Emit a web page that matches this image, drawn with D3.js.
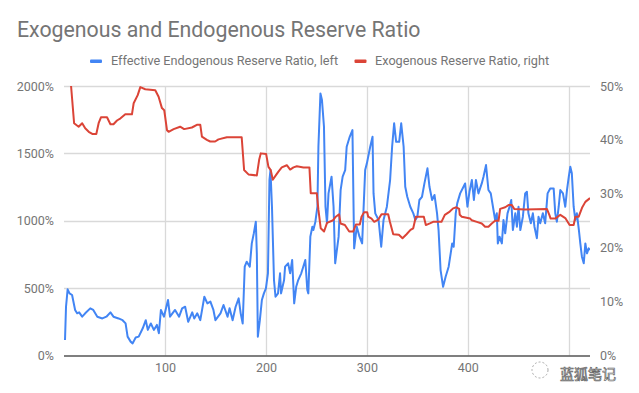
<!DOCTYPE html>
<html>
<head>
<meta charset="utf-8">
<script src="https://cdn.jsdelivr.net/npm/d3@7"></script>
<style>
  html, body { margin: 0; padding: 0; background: #fff; }
  svg { display: block; font-family: Roboto, "Noto Sans", sans-serif; }
</style>
</head>
<body>
<svg id="chart" width="639" height="393"></svg>
<script>
// ---- Data ----
const titleText = "Exogenous and Endogenous Reserve Ratio";
const seriesNames = ["Effective Endogenous Reserve Ratio, left", "Exogenous Reserve Ratio, right"];
const xTicks = [100, 200, 300, 400, 500];
const xTickLabels = ["100", "200", "300", "400", ""]; // "500" is hidden under the watermark in the reference
const leftTicks = [0, 500, 1000, 1500, 2000];
const rightTicks = [0, 10, 20, 30, 40, 50];

// Effective Endogenous Reserve Ratio (left axis, %)
const endoX = [1,2,3.6,5.5,8,11,13,15,18,21,26,29,33,38,42,46,49,54,58,61,63,66,68,71,74,78,81,83,86,89,92,94,96,99,103,105,110,114,117,120,123,127,129,132,135,139,142,145,148,150,155,158,162,164,167,170,173,175,177,179,181,184,186,188,190,191,192,194,196,198,200,202,203.5,204.5,206,208,209.5,212,214,215,218,219,222,224,226,228,230,232,235,237,239,241,242,244,246,247,249,251,252,254,255.5,257.5,259,260.5,262,265,267,268.6,272,274,276,278.5,280,283,285.7,287.4,290,292.7,295.3,298.3,300,303.3,305.6,306.6,308.3,311.6,314.2,316.5,319.8,323,325,327,329,332,334,336.4,338,340,343,346,348,350,352,354.6,357,360,362,364.6,367,369.5,371,373,375.5,378,381,384.5,386,388,389.5,392.4,395.7,397.3,399.6,401.6,404,406,408,410.5,413.8,415.5,418,420.4,422.7,425.4,427,428.7,429.7,431.4,433.7,435.3,437,439.3,441.3,443,444.6,447,448.6,450.2,452,454.5,456.8,458.5,460,462.4,464.4,466,468.4,470,471.7,474.3,476.6,479,481.6,485,486.6,488.2,490,491.6,494.2,496.5,498.2,500,501.5,503,504.8,506.5,508,510,511.4,513,514.8,516.4,518,519.7,521];
const endoVal = [115,362,491,461,449,338,313,320,288,313,350,338,288,275,288,320,288,275,262,238,140,103,90,133,140,202,262,190,238,190,227,165,338,288,412,288,338,288,350,362,250,320,275,313,262,436,387,400,338,262,313,375,288,350,262,362,424,313,238,659,696,659,832,906,993,758,140,262,412,461,498,610,1302,1376,1104,560,436,461,610,461,560,659,684,610,709,387,510,560,610,659,709,486,461,882,956,931,993,1104,1549,1945,1896,1698,1104,983,1203,1327,1104,684,882,1228,1327,1376,1549,1623,1673,795,956,882,832,1376,1426,1549,1623,1203,1055,1006,807,1006,1104,1302,1549,1723,1586,1586,1723,1549,1252,1178,1104,1055,1006,1030,1154,1178,1277,1389,1252,1154,1191,1055,931,634,510,585,659,832,807,1055,1129,1203,1252,1277,1104,1215,1302,1154,1302,1203,1277,1327,1413,1228,1203,1080,1006,1055,832,882,832,1006,907,1055,1104,1154,931,1055,956,1104,931,1030,1203,1215,1055,981,1055,956,870,1030,981,1055,981,1203,1240,1240,1055,993,1104,1228,1203,1104,1228,1327,1401,1352,1104,1006,1055,931,832,733,684,832,758,795,783];

// Exogenous Reserve Ratio (right axis, %)
const exoX = [7,10,14.5,18,21,24.5,28,32,34.3,36.6,42.6,46,49,52.5,56,60.7,67.3,69,73,75.6,80.5,90.4,93.7,97,99.3,102,103.6,108.6,115,119,126.7,131.6,135,136.6,141.5,144.8,149.7,153,161.3,176,178.4,182.7,191,193.3,194.9,200.2,202.5,204.8,206.8,210.1,212.4,215.7,220.7,224,227.3,230.6,237.2,243.1,244.4,250.4,252,254.3,257.6,260.5,266.6,269.2,272.5,273.9,278.2,282.5,286.4,289.1,293,294.7,297.3,300.3,301.3,304.6,307.3,311.2,314.5,321.1,322.8,326.1,331.7,335.3,339.3,343.2,345.9,348.5,356.4,358.4,362.4,365.6,373.9,377.2,382.1,385.4,388.7,391.4,392,394,402.3,403.9,408.9,413.8,417.1,420.4,423.7,427,430.4,432,437,440.3,443.6,445.9,456.8,478.3,480.9,482,486.6,491.6,496.5,500.8,504.8,506.5,509.8,513.1,516.4,521];
const exoVal = [50,43.1,42.45,43.1,42.15,41.5,41.1,41.1,43.1,44.2,44.2,42.9,42.9,43.6,44,44.75,44.75,46.8,48.3,49.8,49.4,49.2,48,45.9,45.5,41.8,41.5,42,42.45,42,42.3,42.8,42.8,40.6,40,39.7,39.7,40.1,40.5,40.5,34.4,33.6,33.4,36.3,37.5,37.4,35,34.4,32.6,33.5,34.1,34.9,35.3,34.5,34.9,35.1,34.9,34.9,30.1,30.1,27,23.6,23,24.6,25.1,25.75,26.2,24.5,24.2,23,23,24.3,24.3,25.75,26.6,26.6,25.75,25.4,24.8,25.2,26.2,26.2,24.8,22.5,22.4,21.75,22.5,23.3,23.6,25.75,25.75,24.2,24.5,24.8,24.8,26.1,26.7,27.3,27.5,27.2,26.1,25.75,25.4,25.1,24.8,24.5,23.9,23.9,24.5,25,25,27.2,27.5,27.9,27.9,27.2,27.1,27.2,26,25.4,25.4,26.1,25.5,24.2,24.2,25.75,25.75,27.4,28.5,29.2];

// ---- Layout ----
const svg = d3.select("#chart");
const pL = 64, pR = 590, pT = 86, pB = 355.5;
const textColor = "#757575";
const blue = "#4285F4", red = "#DB4437";

const x = d3.scaleLinear().domain([0, 521]).range([pL, pR]);
const yL = d3.scaleLinear().domain([0, 2000]).range([pB, pT]);
const yR = d3.scaleLinear().domain([0, 50]).range([pB, pT]);

// Title
svg.append("text").attr("x", 17).attr("y", 36.5)
  .attr("font-size", 21.3).attr("fill", textColor).text(titleText);

// Legend
const legend = [
  {name: seriesNames[0], color: blue, sx: 90, tx: 111},
  {name: seriesNames[1], color: red, sx: 354.5, tx: 375}
];
legend.forEach(l => {
  svg.append("rect").attr("x", l.sx).attr("y", 59.5).attr("width", 12).attr("height", 3.5)
    .attr("rx", 1).attr("fill", l.color);
  svg.append("text").attr("x", l.tx).attr("y", 65).attr("font-size", 12.7)
    .attr("fill", textColor).text(l.name);
});

// Gridlines
const g = svg.append("g");
g.selectAll(".hg").data(leftTicks.filter(d => d > 0)).join("line")
  .attr("x1", pL).attr("x2", pR)
  .attr("y1", d => Math.round(yL(d)) + 0.5).attr("y2", d => Math.round(yL(d)) + 0.5)
  .attr("stroke", "#d9d9d9").attr("stroke-width", 1.3);
g.selectAll(".vg").data(xTicks).join("line")
  .attr("x1", d => Math.round(x(d)) + 0.5).attr("x2", d => Math.round(x(d)) + 0.5)
  .attr("y1", pT).attr("y2", pB)
  .attr("stroke", "#d9d9d9").attr("stroke-width", 1.3);

// Axes (D3 axes, domain lines removed)
const axL = svg.append("g").attr("transform", `translate(${pL - 7},0)`)
  .call(d3.axisLeft(yL).tickValues(leftTicks).tickSize(0).tickFormat(d => d + "%"));
const axR = svg.append("g").attr("transform", `translate(${pR + 7},0)`)
  .call(d3.axisRight(yR).tickValues(rightTicks).tickSize(0).tickFormat(d => d + "%"));
const axB = svg.append("g").attr("transform", `translate(0,${pB + 5})`)
  .call(d3.axisBottom(x).tickValues(xTicks).tickSize(0).tickFormat((d, i) => xTickLabels[i]));
[axL, axR, axB].forEach(a => {
  a.select(".domain").remove();
  a.selectAll("text").attr("fill", textColor).attr("font-size", 12.5)
    .attr("font-family", "Roboto, 'Noto Sans', sans-serif");
});

// Clip
svg.append("clipPath").attr("id", "clip").append("rect")
  .attr("x", pL).attr("y", pT - 2).attr("width", pR - pL).attr("height", pB - pT + 2);

const endo = endoX.map((d, i) => [d, endoVal[i]]);
const exo = exoX.map((d, i) => [d, exoVal[i]]);

svg.append("path").datum(endo).attr("clip-path", "url(#clip)")
  .attr("fill", "none").attr("stroke", blue).attr("stroke-width", 2).attr("stroke-linejoin", "round")
  .attr("d", d3.line().x(d => x(d[0])).y(d => yL(d[1])));
svg.append("path").datum(exo).attr("clip-path", "url(#clip)")
  .attr("fill", "none").attr("stroke", red).attr("stroke-width", 2).attr("stroke-linejoin", "round")
  .attr("d", d3.line().x(d => x(d[0])).y(d => yR(d[1])));

// Baseline
svg.append("line").attr("x1", pL).attr("x2", pR).attr("y1", pB + 0.5).attr("y2", pB + 0.5)
  .attr("stroke", "#555").attr("stroke-width", 1.5);

// Watermark
const wm = svg.append("g");
wm.append("circle").attr("cx", 540).attr("cy", 370).attr("r", 8)
  .attr("fill", "none").attr("stroke", "#aaa").attr("stroke-width", 1).attr("stroke-dasharray", "2,2");
wm.append("text").attr("x", 560).attr("y", 379).attr("font-size", 14)
  .attr("font-family", "'Noto Sans CJK SC', sans-serif")
  .attr("fill", "#fff").attr("stroke", "#666").attr("stroke-width", 0.7).text("蓝狐笔记");
</script>
</body>
</html>
